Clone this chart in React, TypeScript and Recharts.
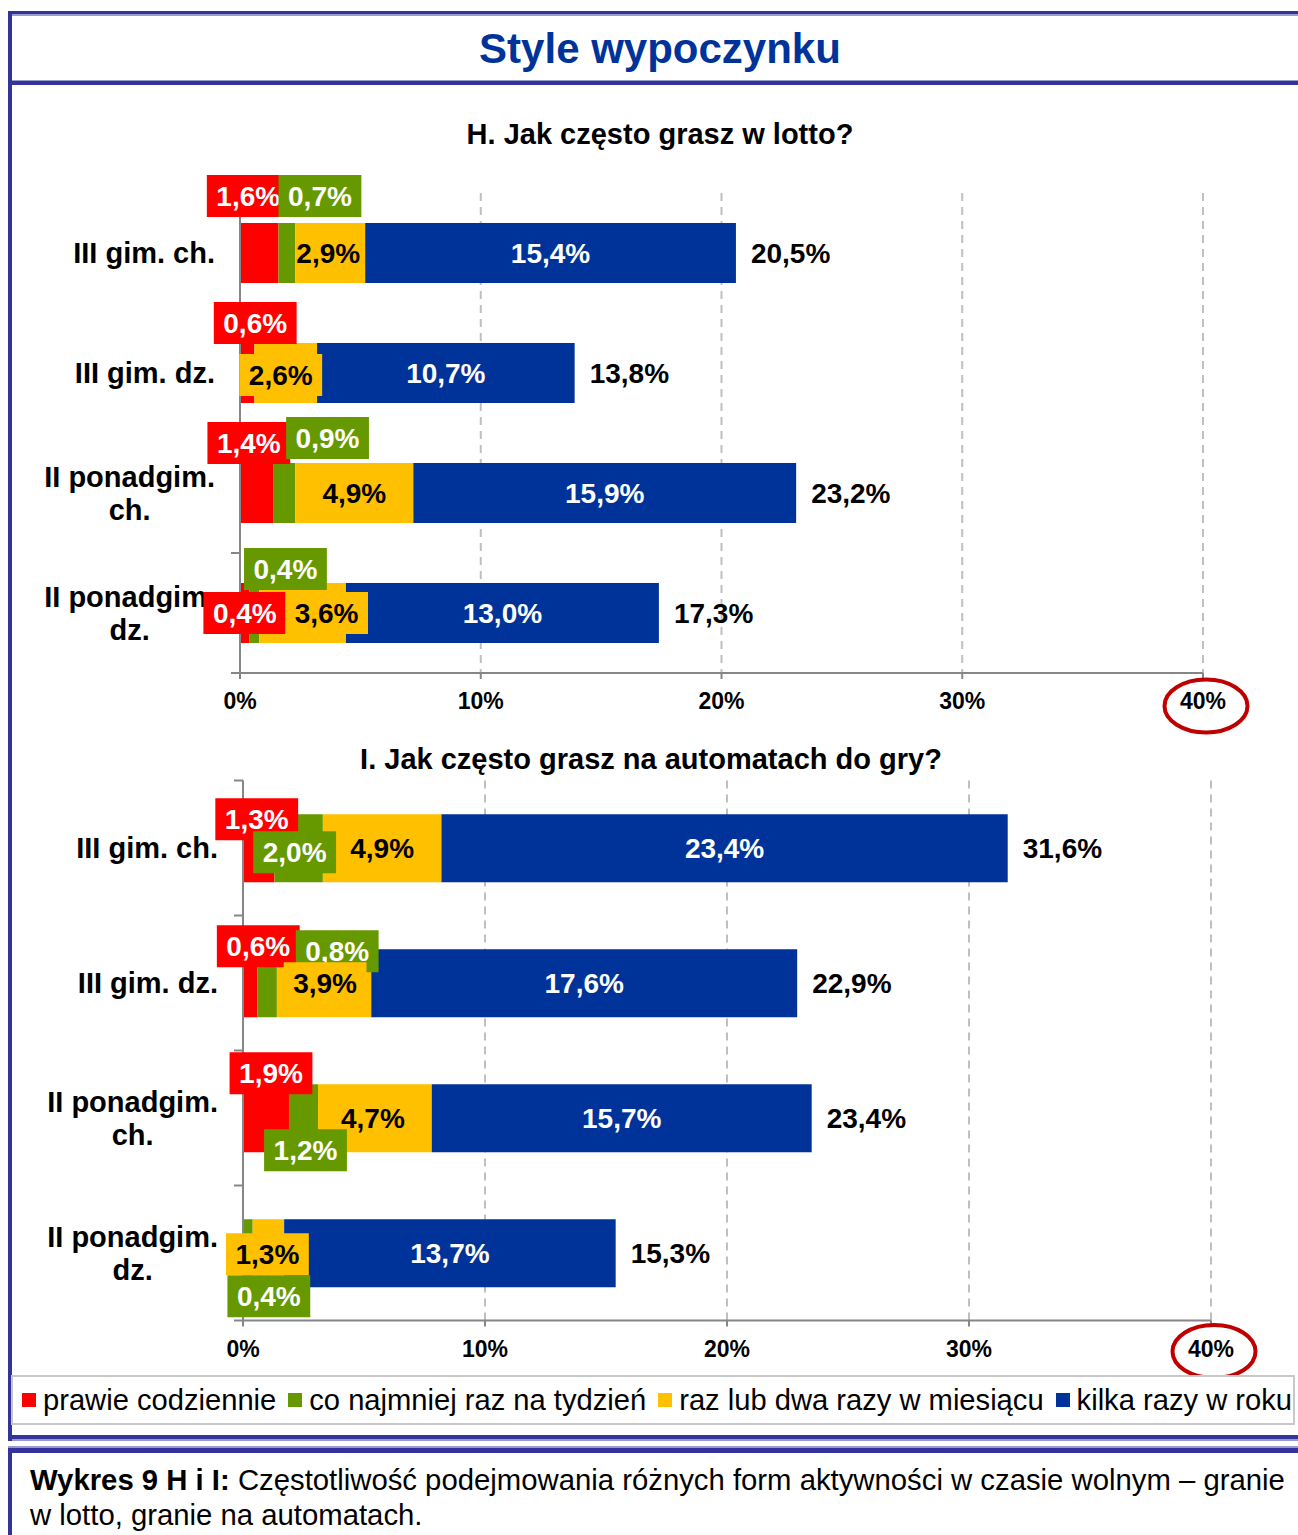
import React from 'react';
import { BarChart, Bar, XAxis, YAxis, CartesianGrid, LabelList } from 'recharts';

const FONT = "'Liberation Sans', Arial, Helvetica, sans-serif";

// ---------- data ----------
const categories = ['III gim. ch.', 'III gim. dz.', 'II ponadgim. ch.', 'II ponadgim. dz.'];
const seriesKeys = ['daily', 'weekly', 'monthly', 'yearly'];
const seriesNames = [
  'prawie codziennie',
  'co najmniej raz na tydzień',
  'raz lub dwa razy w miesiącu',
  'kilka razy w roku',
];
const xTicks = [0, 10, 20, 30, 40];

// H. Jak często grasz w lotto?
const lottoDaily = [1.6, 0.6, 1.4, 0.4];
const lottoWeekly = [0.7, 0, 0.9, 0.4];
const lottoMonthly = [2.9, 2.6, 4.9, 3.6];
const lottoYearly = [15.4, 10.7, 15.9, 13.0];
const lottoTotal = [20.5, 13.8, 23.2, 17.3];

// I. Jak często grasz na automatach do gry?
const slotDaily = [1.3, 0.6, 1.9, 0];
const slotWeekly = [2.0, 0.8, 1.2, 0.4];
const slotMonthly = [4.9, 3.9, 4.7, 1.3];
const slotYearly = [23.4, 17.6, 15.7, 13.7];
const slotTotal = [31.6, 22.9, 23.4, 15.3];

// ---------- styles ----------
const seriesColors = ['#FF0000', '#669900', '#FFC000', '#003399'];
const seriesTextColors = ['#FFFFFF', '#FFFFFF', '#000000', '#FFFFFF'];
const FRAME = '#333399';
const AXIS = '#868686';

type LabelOff = { dx: number; dy: number; box: boolean } | null;
const C: LabelOff = { dx: 0, dy: 0, box: false };

// label nudges (relative to segment centre), per series, per category
const lottoLabelOffsets: LabelOff[][] = [
  [{ dx: -11, dy: -57, box: true }, { dx: 8, dy: -50, box: true }, { dx: -8, dy: -50, box: true }, { dx: 0, dy: 0, box: true }],
  [{ dx: 33, dy: -57, box: true }, null, { dx: 43, dy: -55, box: true }, { dx: 31, dy: -44, box: true }],
  [{ dx: -2, dy: 0, box: false }, { dx: -5, dy: 2, box: true }, C, { dx: 24, dy: 0, box: true }],
  [C, C, C, C],
];
const slotLabelOffsets: LabelOff[][] = [
  [{ dx: -2, dy: -29, box: true }, { dx: 8, dy: -37, box: true }, { dx: 5, dy: -45, box: true }, null],
  [{ dx: -4, dy: 4, box: true }, { dx: 70, dy: -32, box: true }, { dx: 2, dy: 32, box: true }, { dx: 21, dy: 43, box: true }],
  [C, { dx: 1, dy: 0, box: true }, { dx: -2, dy: 0, box: false }, { dx: -1, dy: 1, box: true }],
  [C, C, C, C],
];

interface ChartSpec {
  values: number[][];
  totals: number[];
  offsets: LabelOff[][];
}

const lottoSpec: ChartSpec = {
  values: [lottoDaily, lottoWeekly, lottoMonthly, lottoYearly],
  totals: lottoTotal,
  offsets: lottoLabelOffsets,
};
const slotSpec: ChartSpec = {
  values: [slotDaily, slotWeekly, slotMonthly, slotYearly],
  totals: slotTotal,
  offsets: slotLabelOffsets,
};

const fmt = (v: number) => v.toFixed(1).replace('.', ',') + '%';

const measure: { ctx: CanvasRenderingContext2D | null } = { ctx: null };
function textWidth(text: string, font: string): number {
  if (typeof document === 'undefined') return text.length * 16;
  if (!measure.ctx) measure.ctx = document.createElement('canvas').getContext('2d');
  const ctx = measure.ctx;
  if (!ctx) return text.length * 16;
  ctx.font = font;
  return ctx.measureText(text).width;
}

function splitLabel(label: string): string[] {
  if (label.length <= 12) return [label];
  const i = label.lastIndexOf(' ');
  return [label.slice(0, i), label.slice(i + 1)];
}

function StackLabels(props: any) {
  const spec: ChartSpec = props.spec;
  const vb = props.viewBox && props.viewBox.width !== undefined ? props.viewBox : props;
  const bx = Number(vb.x);
  const by = Number(vb.y);
  const bw = Number(vb.width);
  const bh = Number(vb.height);
  let index = categories.indexOf(String(props.value));
  if (index < 0 && typeof props.index === 'number') index = props.index;
  if (index < 0) return null;
  const vals = spec.values.map((a) => a[index]);
  const per = bw / vals[3];
  const x0 = bx - (vals[0] + vals[1] + vals[2]) * per;
  const cy = by + bh / 2;
  const font = `bold 28px ${FONT}`;
  const els: React.ReactNode[] = [];
  let acc = 0;
  vals.forEach((v, s) => {
    const start = x0 + acc * per;
    const w = v * per;
    acc += v;
    const off = spec.offsets[s][index];
    if (!off || v === 0) return;
    const cx = start + w / 2 + off.dx;
    const ty = cy + off.dy;
    const txt = fmt(v);
    const tw = textWidth(txt, font) + 19;
    els.push(
      <g key={s}>
        {off.box && <rect x={cx - tw / 2} y={ty - 21} width={tw} height={42} fill={seriesColors[s]} />}
        <text
          x={cx}
          y={ty}
          textAnchor="middle"
          dominantBaseline="central"
          fontFamily={FONT}
          fontSize={28}
          fontWeight="bold"
          fill={seriesTextColors[s]}
        >
          {txt}
        </text>
      </g>
    );
  });
  els.push(
    <text
      key="total"
      x={x0 + acc * per + 15}
      y={cy}
      textAnchor="start"
      dominantBaseline="central"
      fontFamily={FONT}
      fontSize={28}
      fontWeight="bold"
      fill="#000"
    >
      {fmt(spec.totals[index])}
    </text>
  );
  return <g>{els}</g>;
}

function YTick(props: any) {
  const { x, y, payload, bandHalf, gap } = props;
  const label = String(payload.value);
  const idx = categories.indexOf(label);
  const lines = splitLabel(label);
  const font = `bold 29px ${FONT}`;
  const blockW = Math.max(...lines.map((l) => textWidth(l, font)));
  const multi = lines.length > 1;
  const axisX = x + gap;
  return (
    <g>
      {lines.map((l, i) => (
        <text
          key={i}
          x={multi ? x - blockW / 2 : x}
          y={y + (i - (lines.length - 1) / 2) * 33}
          textAnchor={multi ? 'middle' : 'end'}
          dominantBaseline="central"
          fontFamily={FONT}
          fontSize={29}
          fontWeight="bold"
          fill="#000"
        >
          {l}
        </text>
      ))}
      <line x1={axisX - 9} x2={axisX} y1={y - bandHalf} y2={y - bandHalf} stroke={AXIS} strokeWidth={2} />
      {idx === categories.length - 1 && (
        <line x1={axisX - 9} x2={axisX} y1={y + bandHalf} y2={y + bandHalf} stroke={AXIS} strokeWidth={2} />
      )}
    </g>
  );
}

function XTick(props: any) {
  const { x, y, payload, ringDy } = props;
  return (
    <g>
      <text
        x={x}
        y={y}
        dy="0.75em"
        textAnchor="middle"
        fontFamily={FONT}
        fontSize={23}
        fontWeight="bold"
        fill="#000"
      >
        {payload.value}%
      </text>
      {payload.value === 40 && (
        <ellipse cx={x + 3} cy={y + ringDy} rx={41.5} ry={26.5} fill="none" stroke="#C00000" strokeWidth={4} />
      )}
    </g>
  );
}

interface PanelProps {
  spec: ChartSpec;
  top: number;
  height: number;
  plotTop: number;
  plotHeight: number;
  plotLeft: number;
  plotRight: number;
  ringDy: number;
}

function Panel({ spec, top, height, plotTop, plotHeight, plotLeft, plotRight, ringDy }: PanelProps) {
  const rows = categories.map((cat, i) => ({
    cat,
    daily: spec.values[0][i],
    weekly: spec.values[1][i],
    monthly: spec.values[2][i],
    yearly: spec.values[3][i],
  }));
  const xAxisH = 40;
  const bandHalf = plotHeight / categories.length / 2;
  const gap = 25;
  const margin = {
    top: plotTop,
    right: 1298 - plotRight,
    left: 0,
    bottom: height - plotTop - plotHeight - xAxisH,
  };
  return (
    <div style={{ position: 'absolute', left: 0, top }}>
      <BarChart
        width={1298}
        height={height}
        data={rows}
        layout="vertical"
        margin={margin}
        barCategoryGap="25%"
      >
        <CartesianGrid horizontal={false} stroke="#BFBFBF" strokeDasharray="8 6" strokeWidth={2} />
        <XAxis
          type="number"
          domain={[0, 40]}
          ticks={xTicks}
          interval={0}
          height={xAxisH}
          axisLine={{ stroke: AXIS, strokeWidth: 2 }}
          tickLine={{ stroke: AXIS, strokeWidth: 2 }}
          tickSize={6}
          tickMargin={13}
          tick={(p: any) => <XTick {...p} ringDy={ringDy} />}
        />
        <YAxis
          type="category"
          dataKey="cat"
          width={plotLeft}
          interval={0}
          axisLine={{ stroke: AXIS, strokeWidth: 2 }}
          tickLine={false}
          tickSize={0}
          tickMargin={gap}
          tick={(p: any) => <YTick {...p} bandHalf={bandHalf} gap={gap} />}
        />
        {seriesKeys.map((k, s) => (
          <Bar key={k} dataKey={k} name={seriesNames[s]} stackId="s" fill={seriesColors[s]} isAnimationActive={false}>
            {s === seriesKeys.length - 1 && (
              <LabelList dataKey="cat" content={(p: any) => <StackLabels {...p} spec={spec} />} />
            )}
          </Bar>
        ))}
      </BarChart>
    </div>
  );
}

function HLine({ top, height, color }: { top: number; height: number; color: string }) {
  return <div style={{ position: 'absolute', left: 8, top, width: 1290, height, background: color }} />;
}

export default function App() {
  return (
    <div
      style={{
        position: 'relative',
        width: 1298,
        height: 1535,
        overflow: 'hidden',
        background: '#fff',
        fontFamily: FONT,
      }}
    >
      <style>{'body{margin:0;}'}</style>

      {/* frame */}
      <HLine top={11} height={3} color={FRAME} />
      <HLine top={14} height={2} color="#9A9AD0" />
      <HLine top={80} height={1} color="#9A9AD0" />
      <HLine top={81} height={4} color={FRAME} />
      <HLine top={1435} height={4} color={FRAME} />
      <HLine top={1439} height={2} color="#9A9AD0" />
      <HLine top={1446} height={2} color="#9A9AD0" />
      <HLine top={1448} height={5} color={FRAME} />
      <div style={{ position: 'absolute', left: 8, top: 11, width: 4, height: 1430, background: FRAME }} />
      <div style={{ position: 'absolute', left: 8, top: 1448, width: 4, height: 87, background: FRAME }} />

      <div
        style={{
          position: 'absolute',
          left: 0,
          top: 24,
          width: 1320,
          textAlign: 'center',
          fontSize: 42,
          lineHeight: '50px',
          fontWeight: 'bold',
          color: '#003399',
        }}
      >
        Style wypoczynku
      </div>

      <Panel spec={lottoSpec} top={160} height={585} plotTop={33} plotHeight={480} plotLeft={240} plotRight={1203} ringDy={14} />
      <Panel spec={slotSpec} top={740} height={655} plotTop={40.5} plotHeight={540} plotLeft={243} plotRight={1211} ringDy={12} />

      <div
        style={{
          position: 'absolute',
          left: 0,
          top: 117,
          width: 1320,
          textAlign: 'center',
          fontSize: 29,
          lineHeight: '34px',
          fontWeight: 'bold',
          color: '#000',
        }}
      >
        H. Jak często grasz w lotto?
      </div>
      <div
        style={{
          position: 'absolute',
          left: 0,
          top: 742,
          width: 1302,
          textAlign: 'center',
          fontSize: 29,
          lineHeight: '34px',
          fontWeight: 'bold',
          color: '#000',
        }}
      >
        I. Jak często grasz na automatach do gry?
      </div>

      {/* legend */}
      <div
        style={{
          position: 'absolute',
          left: 11,
          top: 1375,
          width: 1284,
          height: 50,
          boxSizing: 'border-box',
          border: '2px solid #C8C8C8',
          display: 'flex',
          alignItems: 'center',
          paddingLeft: 9,
          fontSize: 29.15,
          whiteSpace: 'nowrap',
          color: '#000',
          background: '#fff',
        }}
      >
        {seriesNames.map((n, i) => (
          <span key={n} style={{ display: 'flex', alignItems: 'center', marginRight: 12 }}>
            <span style={{ display: 'inline-block', width: 14, height: 14, background: seriesColors[i], marginRight: 7 }} />
            {n}
          </span>
        ))}
      </div>

      {/* caption */}
      <div
        style={{
          position: 'absolute',
          left: 30,
          top: 1462,
          fontSize: 29.3,
          lineHeight: '35px',
          whiteSpace: 'nowrap',
          color: '#000',
        }}
      >
        <b>Wykres 9 H i I:</b> Częstotliwość podejmowania różnych form aktywności w czasie wolnym – granie
        <br />w lotto, granie na automatach.
      </div>
    </div>
  );
}
